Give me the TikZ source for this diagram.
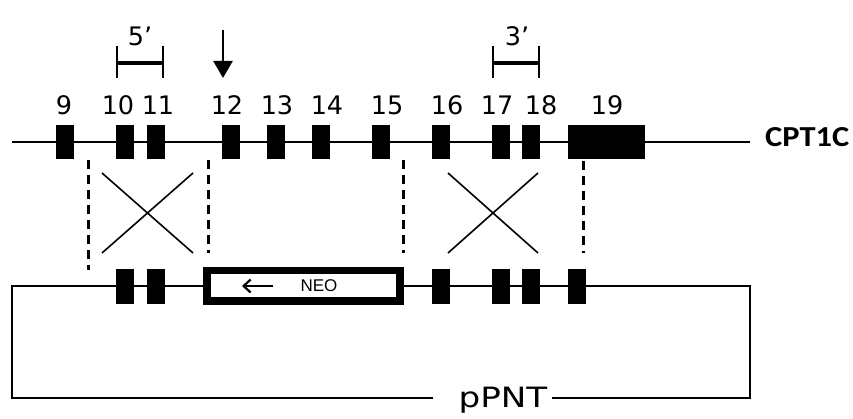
\documentclass[tikz,border=0pt]{standalone}
\usepackage{fontspec}
\usepackage{graphicx}
\setmainfont{DejaVu Sans}
\newfontfamily\lblfont{Carlito}
\newfontfamily\neofont{Liberation Sans}
\usetikzlibrary{arrows.meta,calc}
\begin{document}
\begin{tikzpicture}[x=1pt,y=-1pt,
  exon/.style={fill=black, draw=none, inner sep=0pt, minimum width=18pt, minimum height=34pt},
  exnum/.style={font=\fontsize{25.5}{25.5}\selectfont, anchor=base, inner sep=0pt},
  dna/.style={line width=2.8pt},
  plasmid/.style={line width=2.2pt},
  homol/.style={line width=3pt, dash pattern=on 9pt off 6pt},
  xover/.style={line width=1.6pt},
  bracket/.style={line width=3.5pt},
  tick/.style={line width=2.5pt}]
\useasboundingbox (0,0) rectangle (853,419);

% ---------- genomic locus ----------
\coordinate (gL) at (12,142);
\coordinate (gR) at (750,142);
\draw[dna] (gL) -- (gR);
\node[exon] (e9)  at (65,142) {};
\node[exon] (e10) at (125,142) {};
\node[exon] (e11) at (155.5,142) {};
\node[exon] (e12) at (230.5,142) {};
\node[exon] (e13) at (275.5,142) {};
\node[exon] (e14) at (320.5,142) {};
\node[exon] (e15) at (381,142) {};
\node[exon] (e16) at (441,142) {};
\node[exon] (e17) at (501,142) {};
\node[exon] (e18) at (531,142) {};
\node[exon, minimum width=77pt] (e19) at (606.5,142) {};
\node[font=\lblfont\bfseries\fontsize{29}{29}\selectfont, anchor=west, inner sep=0pt] (gene) at (765,137) {\scalebox{1.12}[1]{CPT1C}};

\node[exnum] (n9)  at (64,115) {9};
\node[exnum] (n10) at (118,115) {10};
\node[exnum] (n11) at (158,115) {11};
\node[exnum] (n12) at (227,115) {12};
\node[exnum] (n13) at (277,115) {13};
\node[exnum] (n14) at (327,115) {14};
\node[exnum] (n15) at (387,115) {15};
\node[exnum] (n16) at (447,115) {16};
\node[exnum] (n17) at (497,115) {17};
\node[exnum] (n18) at (541,115) {18};
\node[exnum] (n19) at (607,115) {19};

% probes
\coordinate (p5a) at (117,63);
\coordinate (p5b) at (163,63);
\draw[bracket] (p5a) -- (p5b);
\draw[tick] (117,46) -- (117,78);
\draw[tick] (163,46) -- (163,78);
\node[exnum] (t5) at (140,46) {5’};

\coordinate (p3a) at (493,63);
\coordinate (p3b) at (539,63);
\draw[bracket] (p3a) -- (p3b);
\draw[tick] (493,46) -- (493,78);
\draw[tick] (539,46) -- (539,78);
\node[exnum] (t3) at (517,46) {3’};

% target site
\coordinate (arT) at (223,30);
\coordinate (arB) at (223,78);
\draw[line width=2.5pt, -{Triangle[width=19pt,length=17pt]}] (arT) -- (arB);

% ---------- targeting vector ----------
\coordinate (vL) at (12,286);
\coordinate (vR) at (750,286);
\coordinate (vBL) at (12,398);
\coordinate (vBR) at (750,398);
\node[font=\fontsize{28}{28}\selectfont, anchor=base, inner sep=0pt] (pp) at (503,407) {\scalebox{1.22}[1]{pPNT}};
\draw[plasmid] ($(pp.west |- vBL)+(-25pt,0)$) -- (vBL) -- (vL) -- (vR) -- (vBR) -- ($(pp.east |- vBR)+(4pt,0)$);

\node[exon, minimum height=35pt] (v10) at (125,286.5) {};
\node[exon, minimum height=35pt] (v11) at (155.5,286.5) {};
\node[exon, minimum height=35pt] (v16) at (441,286.5) {};
\node[exon, minimum height=35pt] (v17) at (501,286.5) {};
\node[exon, minimum height=35pt] (v18) at (531,286.5) {};
\node[exon, minimum height=35pt] (v19) at (577,286.5) {};

\node[draw, line width=7.5pt, fill=white, inner sep=0pt,
      minimum width=193pt, minimum height=30.5pt] (neo) at (303.5,286) {};
\node[font=\neofont\fontsize{17}{17}\selectfont, inner sep=0pt] (neot) at (319,285.5) {NEO};
\coordinate (naR) at (273,286);
\coordinate (naL) at (242,286);
\draw[line width=2.2pt, -{Straight Barb[length=7pt,width=13pt]}] (naR) -- (naL);

% ---------- homologous recombination ----------
\draw[homol] (88,160) -- (88,270);
\draw[homol] (208,160) -- (208,253);
\draw[homol] (403,160) -- (403,253);
\draw[homol] (583,161) -- (583,253);

\coordinate (x1a) at (102,173);
\coordinate (x1b) at (193,253);
\coordinate (x1c) at (193,173);
\coordinate (x1d) at (102,253);
\draw[xover] (x1a) -- (x1b);
\draw[xover] (x1c) -- (x1d);

\coordinate (x2a) at (448,173);
\coordinate (x2b) at (538,253);
\coordinate (x2c) at (538,173);
\coordinate (x2d) at (448,253);
\draw[xover] (x2a) -- (x2b);
\draw[xover] (x2c) -- (x2d);
\end{tikzpicture}
\end{document}
